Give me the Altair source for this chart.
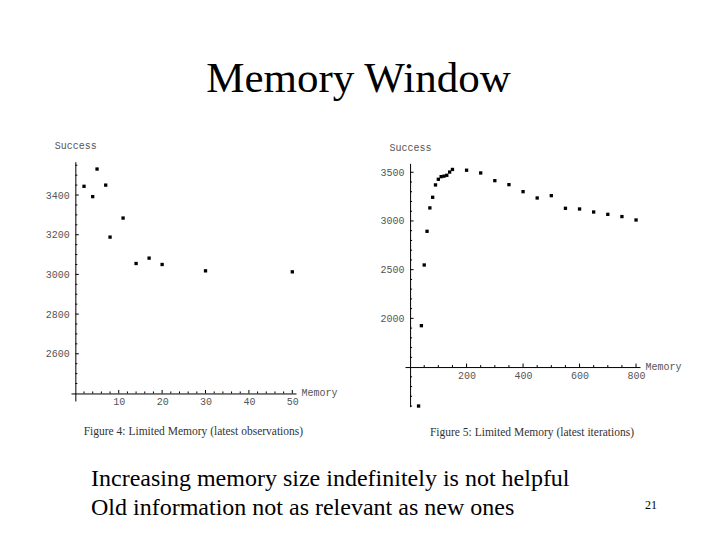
import altair as alt
import pandas as pd

# --- slide texts ---
slide_title = "Memory Window"
caption_fig4 = "Figure 4: Limited Memory (latest observations)"
caption_fig5 = "Figure 5: Limited Memory (latest iterations)"
bullet_lines = [
    "Increasing memory size indefinitely is not helpful",
    "Old information not as relevant as new ones",
]
slide_number = "21"

# --- figure 4: latest observations ---
fig4_memory = [2, 4, 5, 7, 8, 11, 14, 17, 20, 30, 50]
fig4_success = [3444, 3392, 3531, 3450, 3188, 3284, 3055, 3082, 3050, 3018, 3013]

# --- figure 5: latest iterations ---
fig5_memory = [30, 40, 50, 60, 70, 80, 90, 100, 110, 120, 130, 140, 150,
               200, 250, 300, 350, 400, 450, 500, 550, 600, 650, 700, 750, 800]
fig5_success = [1100, 1925, 2548, 2894, 3134, 3243, 3370, 3428, 3455, 3460, 3469, 3502, 3529,
                3521, 3493, 3414, 3373, 3301, 3236, 3260, 3130, 3123, 3092, 3068, 3045, 3010]

# --- tick labels (major) and minor tick marks ---
fig4_x_labels = [10, 20, 30, 40, 50]
fig4_y_labels = [2600, 2800, 3000, 3200, 3400]
fig4_x_minor = [v for v in range(2, 50, 2) if v % 10]
fig4_y_minor = [v for v in range(2450, 3600, 50) if v % 200]
fig5_x_labels = [200, 400, 600, 800]
fig5_y_labels = [2000, 2500, 3000, 3500]
fig5_x_minor = [v for v in range(50, 800, 50) if v % 200]
fig5_y_minor = [v for v in range(1100, 3600, 100) if v % 500]

W, H = 704, 524
SERIF = "Liberation Serif"
MONO = "Liberation Mono"
LABEL_GREY = "#555555"


def to_px(v, dom, rng):
    return rng[0] + (v - dom[0]) / (dom[1] - dom[0]) * (rng[1] - rng[0])


def scatter_panel(xs, ys, xdom, ydom, xrng, yrng, x_cross, y_cross,
                  x_labels, x_minor, y_labels, y_minor):
    # Mathematica style axes: they cross inside the plot at (x_cross, y_cross)
    xscale = alt.Scale(domain=xdom, range=xrng, nice=False, zero=False)
    yscale = alt.Scale(domain=ydom, range=yrng, nice=False, zero=False)
    yaxis_px = to_px(x_cross, xdom, xrng)
    xaxis_px = to_px(y_cross, ydom, yrng)

    common = dict(grid=False, ticks=False, domainColor="black", domainWidth=1,
                  labelFont=MONO, labelFontSize=10, labelColor=LABEL_GREY,
                  labelOverlap=False, labelFlush=False, format="d",
                  titleFont=MONO, titleFontSize=10, titleFontWeight="normal",
                  titleColor=LABEL_GREY, titleAngle=0)
    xaxis = alt.Axis(orient="bottom", offset=xaxis_px - H, values=x_labels,
                     labelPadding=3, title="Memory", titleX=xrng[1] + 5, titleY=-1,
                     titleAlign="left", titleBaseline="middle", **common)
    yaxis = alt.Axis(orient="left", offset=-yaxis_px, values=y_labels,
                     labelPadding=6, title="Success", titleX=0, titleY=yrng[1] - 16,
                     titleAlign="center", titleBaseline="middle", **common)

    pts = alt.Chart(pd.DataFrame({"memory": xs, "success": ys})).mark_square(
        size=11, color="black", opacity=1
    ).encode(
        x=alt.X("memory:Q", scale=xscale, axis=xaxis),
        y=alt.Y("success:Q", scale=yscale, axis=yaxis),
    )

    layers = [pts]
    for vals, length in ((x_labels, 3.5), (x_minor, 2)):
        layers.append(
            alt.Chart(pd.DataFrame({"v": vals})).mark_rule(
                color="black", strokeWidth=1, y2Offset=-length
            ).encode(
                x=alt.X("v:Q", scale=xscale, axis=xaxis),
                y=alt.YDatum(y_cross, type="quantitative", scale=yscale, axis=yaxis),
                y2=alt.Y2Datum(y_cross),
            )
        )
    for vals, length in ((y_labels, 3.5), (y_minor, 2)):
        layers.append(
            alt.Chart(pd.DataFrame({"v": vals})).mark_rule(
                color="black", strokeWidth=1, x2Offset=length
            ).encode(
                y=alt.Y("v:Q", scale=yscale, axis=yaxis),
                x=alt.XDatum(x_cross, type="quantitative", scale=xscale, axis=xaxis),
                x2=alt.X2Datum(x_cross),
            )
        )
    return alt.layer(*layers)


fig4 = scatter_panel(fig4_memory, fig4_success,
                     xdom=[-1, 50.85], ydom=[2362, 3568],
                     xrng=[63, 288], yrng=[393, 153.7],
                     x_cross=0, y_cross=2400,
                     x_labels=fig4_x_labels, x_minor=fig4_x_minor,
                     y_labels=fig4_y_labels, y_minor=fig4_y_minor)

fig5 = scatter_panel(fig5_memory, fig5_success,
                     xdom=[-18, 814], ydom=[1093, 3592],
                     xrng=[397, 632], yrng=[398.7, 155.3],
                     x_cross=0, y_cross=1500,
                     x_labels=fig5_x_labels, x_minor=fig5_x_minor,
                     y_labels=fig5_y_labels, y_minor=fig5_y_minor)

one_row = alt.Data(values=[{}])


def text_layer(text, x, y, size, align="left", color="black", font=SERIF, **kw):
    return alt.Chart(one_row).mark_text(
        text=text, x=x, y=y, align=align, baseline="alphabetic",
        font=font, fontSize=size, color=color, **kw
    ).encode(opacity=alt.value(1))


title = text_layer(slide_title, 350.5, 83.7, 43, align="center")
cap4 = text_layer(caption_fig4, 185.4, 427, 11.5, align="center", color="#333333")
cap5 = text_layer(caption_fig5, 524, 428, 11.5, align="center", color="#333333")
bullets = text_layer(bullet_lines, 83, 478, 24, lineHeight=29)
page_no = text_layer(slide_number, 643, 501, 12, align="center")

chart = alt.layer(
    fig4, fig5, title, cap4, cap5, bullets, page_no
).resolve_scale(
    x="independent", y="independent"
).properties(
    width=W, height=H, padding=0,
    autosize=alt.AutoSizeParams(type="none"),
).configure_view(stroke=None)

chart.save("out.html", embed_options={"renderer": "svg", "actions": False})
